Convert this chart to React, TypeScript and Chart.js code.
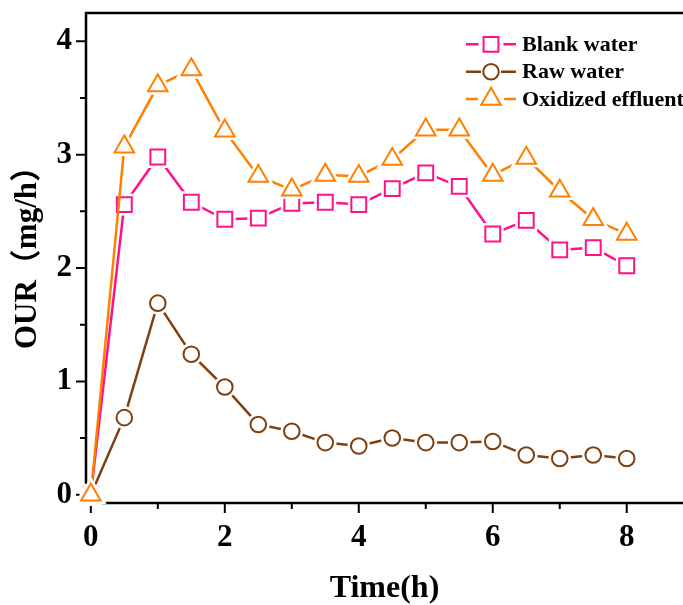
import React, { useEffect, useRef } from 'react';
import { Chart, registerables } from 'chart.js';
import { drawPoint } from 'chart.js/helpers';

Chart.register(...registerables);

const timeH = [0, 0.5, 1, 1.5, 2, 2.5, 3, 3.5, 4, 4.5, 5, 5.5, 6, 6.5, 7, 7.5, 8];
const blankWater = [0, 2.56, 2.98, 2.58, 2.43, 2.44, 2.57, 2.58, 2.56, 2.70, 2.84, 2.72, 2.30, 2.42, 2.16, 2.18, 2.02];
const rawWater = [0, 0.68, 1.69, 1.24, 0.95, 0.62, 0.56, 0.46, 0.43, 0.50, 0.46, 0.46, 0.47, 0.35, 0.32, 0.35, 0.32];
const oxidizedEffluent = [0, 3.07, 3.61, 3.75, 3.21, 2.81, 2.69, 2.82, 2.81, 2.96, 3.22, 3.22, 2.82, 2.97, 2.68, 2.43, 2.30];

const seriesNames = ['Blank water', 'Raw water', 'Oxidized effluent'];
const xTickValues = [0, 2, 4, 6, 8];
const xMinorTickValues = [1, 3, 5, 7];
const yTickValues = [0, 1, 2, 3, 4];
const yMinorTickValues = [0.5, 1.5, 2.5, 3.5];
const xTitle = 'Time(h)';
const yTitle = 'OUR（mg/h）';

const FONT = "'Liberation Serif', 'Times New Roman', 'Noto Sans CJK SC', serif";

const seriesStyles = [
  { color: '#FF1188', pointStyle: 'rect', radius: 10.5 },
  { color: '#7F3F0F', pointStyle: 'circle', radius: 7.8 },
  { color: '#FF8000', pointStyle: 'triangle', radius: 11.3 },
];

const zeroPad = (s: any) => {
  s.paddingLeft = 0;
  s.paddingRight = 0;
  s.paddingTop = 0;
  s.paddingBottom = 0;
};

const frameAndTicks = {
  id: 'frameAndTicks',
  beforeDatasetsDraw(chart: any) {
    const { ctx, chartArea, scales } = chart;
    const { left, right, top, bottom } = chartArea;
    ctx.save();
    ctx.strokeStyle = '#000';
    ctx.lineWidth = 2.5;
    ctx.lineCap = 'square';
    ctx.beginPath();
    ctx.moveTo(right + 2, top);
    ctx.lineTo(left, top);
    ctx.lineTo(left, bottom);
    ctx.lineTo(right + 2, bottom);
    ctx.stroke();
    ctx.lineWidth = 2;
    ctx.lineCap = 'butt';
    ctx.beginPath();
    for (const v of xTickValues) {
      const px = scales.x.getPixelForValue(v);
      ctx.moveTo(px, bottom);
      ctx.lineTo(px, bottom + 10);
    }
    for (const v of xMinorTickValues) {
      const px = scales.x.getPixelForValue(v);
      ctx.moveTo(px, bottom);
      ctx.lineTo(px, bottom + 6);
    }
    for (const v of yTickValues) {
      const py = scales.y.getPixelForValue(v);
      ctx.moveTo(left, py);
      ctx.lineTo(left - 10, py);
    }
    for (const v of yMinorTickValues) {
      const py = scales.y.getPixelForValue(v);
      ctx.moveTo(left, py);
      ctx.lineTo(left - 6, py);
    }
    ctx.stroke();

    // y-axis title
    ctx.translate(28, 250);
    ctx.rotate(-Math.PI / 2);
    ctx.fillStyle = '#000';
    ctx.font = `bold 31px ${FONT}`;
    ctx.textAlign = 'center';
    ctx.textBaseline = 'middle';
    ctx.fillText(yTitle, 0, 0);
    ctx.restore();
  },
};

const customLegend = {
  id: 'customLegend',
  afterDraw(chart: any) {
    const { ctx } = chart;
    const x0 = 466;
    const x1 = 516;
    const xm = 491;
    const rows = [44.3, 71.7, 99];
    ctx.save();
    seriesNames.forEach((name, i) => {
      const st = seriesStyles[i];
      const y = rows[i];
      ctx.strokeStyle = st.color;
      ctx.lineWidth = 2.5;
      ctx.beginPath();
      ctx.moveTo(x0, y);
      ctx.lineTo(xm - st.radius * 0.9 - 3, y);
      ctx.moveTo(xm + st.radius * 0.9 + 3, y);
      ctx.lineTo(x1, y);
      ctx.stroke();
      ctx.fillStyle = '#fff';
      ctx.strokeStyle = st.color;
      ctx.lineWidth = 2;
      drawPoint(ctx, { pointStyle: st.pointStyle, radius: st.radius, rotation: 0, borderWidth: 2 } as any, xm, y);
      ctx.fillStyle = '#000';
      ctx.font = `bold 22px ${FONT}`;
      ctx.textBaseline = 'middle';
      ctx.textAlign = 'left';
      ctx.fillText(name, 522, y + 1);
    });
    ctx.restore();
  },
};

export default function App() {
  const canvasRef = useRef<HTMLCanvasElement | null>(null);

  useEffect(() => {
    const canvas = canvasRef.current;
    if (!canvas) return;
    const allSeries = [blankWater, rawWater, oxidizedEffluent];
    const datasets: any[] = [];
    allSeries.forEach((values, i) => {
      const st = seriesStyles[i];
      const pts = timeH.map((t, k) => ({ x: t, y: values[k] }));
      const base = 100 - i * 30;
      datasets.push({
        label: seriesNames[i],
        data: pts,
        borderColor: st.color,
        borderWidth: 2.5,
        pointRadius: 0,
        pointHoverRadius: 0,
        fill: false,
        tension: 0,
        clip: false,
        order: base,
      });
      datasets.push({
        label: seriesNames[i] + ' gap',
        data: pts,
        showLine: false,
        pointStyle: st.pointStyle,
        pointRadius: st.radius,
        pointBorderWidth: 7,
        pointBorderColor: '#ffffff',
        pointBackgroundColor: '#ffffff',
        clip: false,
        order: base - 1,
      });
      datasets.push({
        label: seriesNames[i] + ' markers',
        data: pts,
        showLine: false,
        pointStyle: st.pointStyle,
        pointRadius: st.radius,
        pointBorderWidth: 2,
        pointBorderColor: st.color,
        pointBackgroundColor: '#ffffff',
        clip: false,
        order: base - 2,
      });
    });

    const chart = new Chart(canvas, {
      type: 'line',
      data: { datasets },
      options: {
        animation: false,
        responsive: false,
        devicePixelRatio: 1,
        events: [],
        layout: { autoPadding: false, padding: { top: 13, right: 0, left: 0, bottom: 0 } },
        plugins: { legend: { display: false }, tooltip: { enabled: false }, title: { display: false } },
        scales: {
          x: {
            type: 'linear',
            min: -0.072,
            max: 8.84,
            afterBuildTicks: (s: any) => { s.ticks = xTickValues.map((v) => ({ value: v })); },
            afterFit: (s: any) => { s.height = 102; zeroPad(s); },
            grid: { display: false, drawTicks: false },
            border: { display: false },
            ticks: {
              color: '#000',
              padding: 16,
              maxRotation: 0,
              font: { family: FONT, size: 31, weight: 'bold' },
              callback: (v: any) => String(v),
            },
            title: {
              display: true,
              text: xTitle,
              color: '#000',
              font: { family: FONT, size: 32, weight: 'bold', lineHeight: 1 },
              padding: { top: 0, bottom: 0 },
            },
          },
          y: {
            type: 'linear',
            min: -0.073,
            max: 4.25,
            afterBuildTicks: (s: any) => { s.ticks = yTickValues.map((v) => ({ value: v })); },
            afterFit: (s: any) => { s.width = 86; zeroPad(s); },
            grid: { display: false, drawTicks: false },
            border: { display: false },
            ticks: {
              color: '#000',
              padding: 14,
              font: { family: FONT, size: 31, weight: 'bold' },
              callback: (v: any) => String(v),
            },
            title: { display: false },
          },
        },
      },
      plugins: [frameAndTicks, customLegend],
    } as any);

    return () => chart.destroy();
  }, []);

  return (
    <div style={{ position: 'absolute', left: 0, top: 0, width: 683, height: 605, background: '#fff' }}>
      <canvas ref={canvasRef} width={683} height={605} style={{ display: 'block', width: 683, height: 605 }} />
    </div>
  );
}
